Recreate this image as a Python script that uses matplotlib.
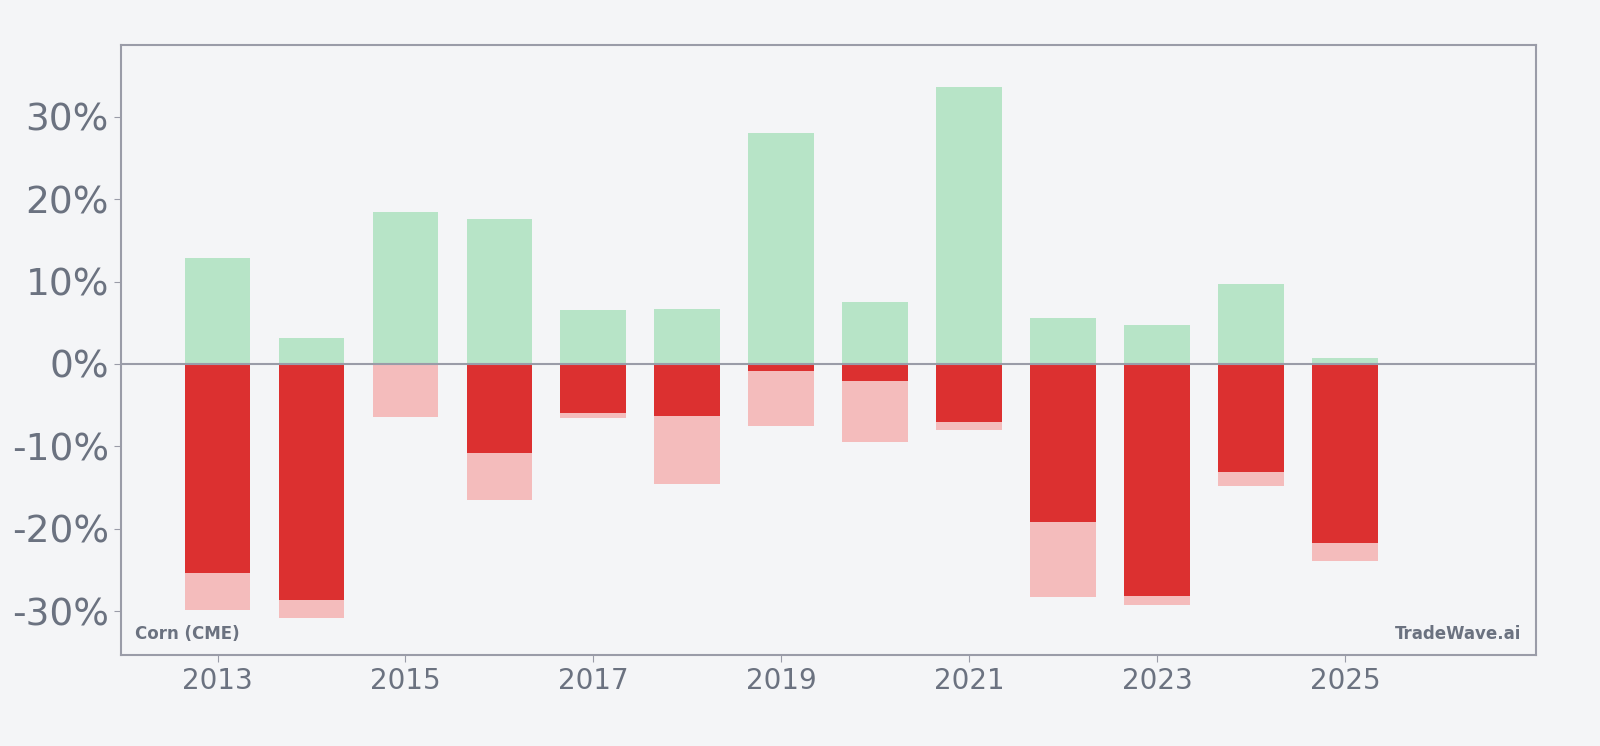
import matplotlib
matplotlib.use('Agg')
from matplotlib import pyplot as plt
from matplotlib.ticker import FuncFormatter

years = [2013, 2014, 2015, 2016, 2017, 2018, 2019, 2020, 2021, 2022, 2023, 2024, 2025]
max_gain = [12.8, 3.2, 18.4, 17.6, 6.5, 6.7, 28.0, 7.5, 33.6, 5.6, 4.7, 9.7, 0.7]
close_loss = [-25.3, -28.6, 0.0, -10.8, -6.0, -6.3, -0.8, -2.1, -7.1, -19.2, -28.1, -13.1, -21.7]
max_drawdown = [-29.9, -30.8, -6.4, -16.5, -6.6, -14.5, -7.5, -9.5, -8.0, -28.3, -29.2, -14.8, -23.9]

BG = '#f4f5f7'
TXT = '#6b7280'
SPINE = '#9a9ca8'

fig = plt.figure(figsize=(16, 7.46), dpi=100, facecolor=BG)
ax = fig.add_axes([0.0755, 0.122, 0.8843, 0.8178])
ax.set_facecolor(BG)

ax.bar(years, max_gain, width=0.7, color='#b7e4c7', zorder=2)
ax.bar(years, max_drawdown, width=0.7, color='#f4bcbc', zorder=2)
ax.bar(years, close_loss, width=0.7, color='#dc3030', zorder=3)
ax.axhline(0, color=SPINE, lw=1.5, zorder=4)

ax.set_xlim(2011.97, 2027.03)
ax.set_ylim(-35.3, 38.7)
ax.set_xticks(range(2013, 2026, 2))
ax.set_yticks([-30, -20, -10, 0, 10, 20, 30])
ax.yaxis.set_major_formatter(FuncFormatter(lambda v, p: f'{v:.0f}%'))
ax.tick_params(axis='x', labelsize=20, colors=SPINE, labelcolor=TXT, length=5)
ax.tick_params(axis='y', labelsize=27, colors=SPINE, labelcolor=TXT, length=5)

for s in ax.spines.values():
    s.set_color(SPINE)
    s.set_linewidth(1.5)

ax.text(0.01, 0.02, 'Corn (CME)', transform=ax.transAxes, fontsize=12,
        fontweight='bold', color=TXT, ha='left', va='bottom')
ax.text(0.99, 0.02, 'TradeWave.ai', transform=ax.transAxes, fontsize=12,
        fontweight='bold', color=TXT, ha='right', va='bottom')

fig.savefig('out.png', dpi=100, facecolor=BG)
